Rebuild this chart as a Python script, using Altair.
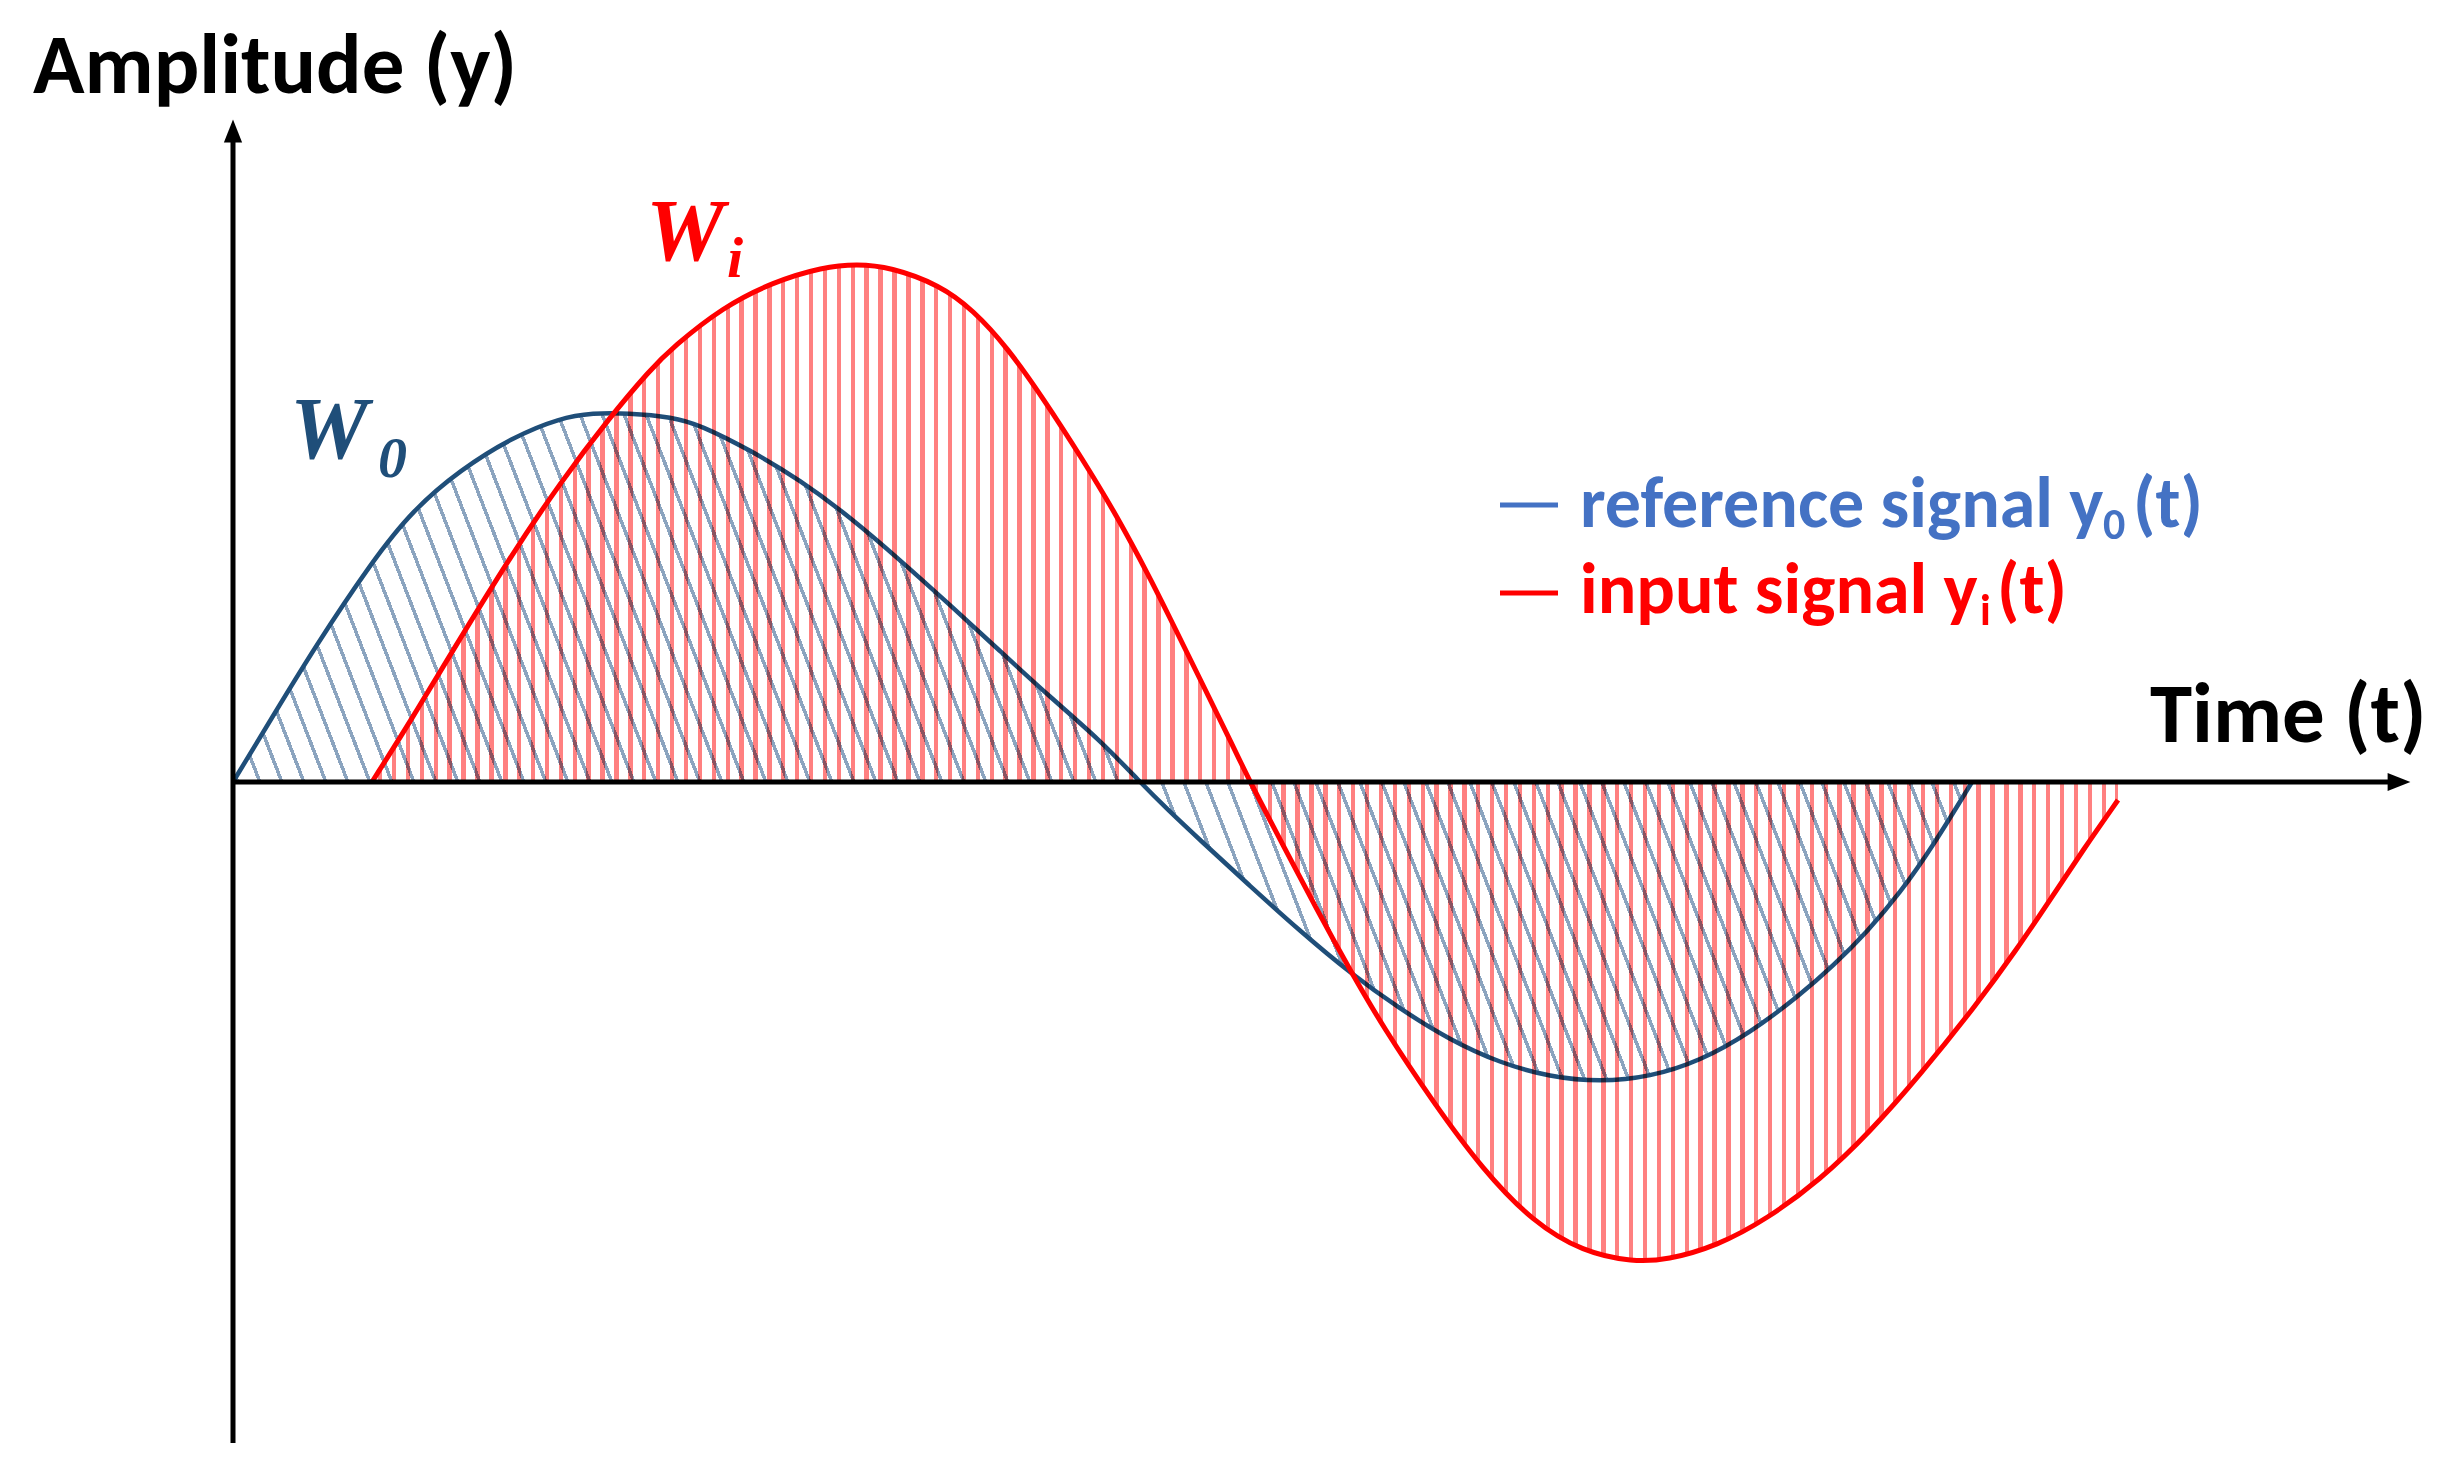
import altair as alt
import pandas as pd

# ---------------- data ----------------
# reference signal y0(t)  (time units, amplitude units)
blue_t = [0.00, 0.40, 0.80, 1.40, 1.80, 2.27, 2.80, 3.27, 3.60, 3.94, 4.40, 4.67, 5.17, 5.67,
          6.17, 6.67, 7.17, 7.67, 8.17, 8.67, 9.07, 9.34, 9.67, 10.17, 10.67, 11.17, 11.67,
          12.17, 12.67, 13.17, 13.67, 14.17, 14.67, 15.17, 15.67, 16.00, 16.34, 16.67, 17.00, 17.39]
blue_a = [0.00, 0.66, 1.32, 2.22, 2.72, 3.12, 3.45, 3.64, 3.69, 3.69, 3.65, 3.57, 3.32, 3.02,
          2.65, 2.22, 1.77, 1.31, 0.85, 0.42, 0.00, -0.27, -0.58, -1.04, -1.49, -1.91, -2.27,
          -2.58, -2.81, -2.95, -3.00, -2.95, -2.79, -2.51, -2.13, -1.84, -1.50, -1.11, -0.64, 0.00]

# input signal yi(t)
red_t = [1.39, 1.80, 2.14, 2.77, 3.27, 3.77, 4.17, 4.40, 4.90, 5.40, 5.90, 6.24, 6.57, 7.07,
         7.40, 7.74, 8.10, 8.50, 8.84, 9.17, 9.34, 9.67, 10.00, 10.17, 10.50, 10.84, 11.17,
         11.50, 12.00, 12.50, 13.00, 13.50, 14.00, 14.34, 14.84, 15.34, 15.87, 16.37, 16.87,
         17.44, 17.84, 18.17, 18.50, 18.85]
red_a = [0.00, 0.65, 1.22, 2.25, 2.99, 3.65, 4.12, 4.35, 4.75, 5.00, 5.15, 5.18, 5.15, 4.97,
         4.72, 4.35, 3.84, 3.22, 2.66, 2.04, 1.70, 1.03, 0.36, 0.00, -0.63, -1.28, -1.88,
         -2.45, -3.20, -3.88, -4.40, -4.70, -4.80, -4.78, -4.64, -4.37, -3.98, -3.50, -2.93,
         -2.22, -1.67, -1.18, -0.68, -0.18]

# axes (arrows)
axis_y_from, axis_y_to = -6.61, 6.51
axis_x_to = 21.66

title_labels = ["Amplitude (y)", "Time (t)"]
title_t = [-2.00, 19.17]
title_a = [6.89, 0.40]

legend_labels = ["reference signal y", "input signal y"]
legend_subs = ["0", "i"]
legend_tails = ["(t)", "(t)"]
legend_colors = ["#4472c4", "#ff0000"]
legend_text_t = [13.47, 13.47]
legend_text_a = [2.55, 1.69]
legend_sub_t = [18.70, 17.47]
legend_tail_t = [19.00, 17.64]
legend_dash_t = [12.67, 13.25]
legend_dash_a = [2.77, 1.89]

w_labels = ["W", "W"]
w_subs = ["0", "i"]
w_colors = ["#1f4e79", "#ff0000"]
w_t = [0.57, 4.13]
w_a = [3.24, 5.22]
w_sub_t = [1.45, 4.94]
w_sub_a = [3.05, 5.05]

# ---------------- layout / styling ----------------
PX = 100.0
W_PLOT, H_PLOT = 2440, 1460
T_MIN, A_MAX = -2.25, 7.74
xs = alt.Scale(domain=[T_MIN, T_MIN + W_PLOT / PX], nice=False, zero=False)
ys = alt.Scale(domain=[A_MAX - H_PLOT / PX, A_MAX], nice=False, zero=False)
X = lambda f: alt.X(f, type="quantitative", scale=xs, axis=None)
Y = lambda f: alt.Y(f, type="quantitative", scale=ys, axis=None)

CLEAR = "rgba(255,255,255,0)"


def stripe_stops(period_frac, width_frac, phase_frac, color):
    stops = [alt.GradientStop(color=CLEAR, offset=0)]
    k = 0
    while True:
        s = phase_frac + k * period_frac
        if s >= 1:
            break
        e = min(s + width_frac, 1.0)
        stops += [alt.GradientStop(color=CLEAR, offset=s), alt.GradientStop(color=color, offset=s),
                  alt.GradientStop(color=color, offset=e), alt.GradientStop(color=CLEAR, offset=e)]
        k += 1
    stops.append(alt.GradientStop(color=CLEAR, offset=1))
    return stops


blue_df = pd.DataFrame({"t": blue_t, "a": blue_a, "z": 0.0})
red_df = pd.DataFrame({"t": red_t, "a": red_a, "z": 0.0})

# red: vertical hatch
red_w = (max(red_t) - min(red_t)) * PX
red_grad = alt.Gradient(gradient="linear", x1=0, y1=0, x2=1, y2=0,
                        stops=stripe_stops(13.9 / red_w, 4.4 / red_w, 6 / red_w, "#ff8080"))

# blue: diagonal hatch "\\"
bw = (max(blue_t) - min(blue_t)) * PX
bh = (max(blue_a) - min(blue_a)) * PX
slope = 2.6
gy = -bh / (slope * bw)
tt = (1 - gy) / (1 + gy * gy)
span = bw * (1 - gy)
blue_grad = alt.Gradient(gradient="linear", x1=0, y1=1, x2=tt, y2=1 + tt * gy,
                         stops=stripe_stops(22.0 / span, 3.8 / span, 8 / span, "#8ba4bf"))

CURVE = "basis"
blue_area = alt.Chart(blue_df).mark_area(interpolate=CURVE, color=blue_grad).encode(
    x=X("t"), y=Y("a"), y2="z")
blue_line = alt.Chart(blue_df).mark_line(interpolate=CURVE, color="#1f4e79", strokeWidth=4.5).encode(
    x=X("t"), y=Y("a"))
red_area = alt.Chart(red_df).mark_area(interpolate=CURVE, color=red_grad, blend="multiply").encode(
    x=X("t"), y=Y("a"), y2="z")
red_line = alt.Chart(red_df).mark_line(interpolate=CURVE, color="#ff0000", strokeWidth=5).encode(
    x=X("t"), y=Y("a"))

axes_df = pd.DataFrame({"t": [0.0, 0.0], "a": [axis_y_from, 0.0], "t2": [0.0, axis_x_to], "a2": [axis_y_to, 0.0]})
axes = alt.Chart(axes_df).mark_rule(color="black", strokeWidth=5).encode(
    x=X("t"), y=Y("a"), x2="t2", y2="a2")
arrow_df = pd.DataFrame({"t": [0.0, axis_x_to], "a": [axis_y_to, 0.0], "ang": [0, 90]})
arrows = alt.Chart(arrow_df).mark_point(shape="M0,-1L0.8,1L-0.8,1Z", filled=True, color="black",
                                        size=520, opacity=1).encode(
    x=X("t"), y=Y("a"), angle=alt.Angle("ang:Q", scale=None))

FONT = "Carlito, Calibri, Lato"
titles = alt.Chart(pd.DataFrame({"t": title_t, "a": title_a, "lab": title_labels})).mark_text(
    font=FONT, fontWeight="bold", fontSize=85, align="left", baseline="alphabetic", color="black").encode(
    x=X("t"), y=Y("a"), text="lab:N")

leg_df = pd.DataFrame({"t": legend_text_t, "a": legend_text_a, "lab": legend_labels, "c": legend_colors,
                       "st": legend_sub_t, "sa": [v - 0.12 for v in legend_text_a], "sub": legend_subs,
                       "tt": legend_tail_t, "tail": legend_tails,
                       "d1": [legend_dash_t[0]] * 2, "d2": [legend_dash_t[1]] * 2, "da": legend_dash_a})
leg_text = alt.Chart(leg_df).mark_text(font=FONT, fontWeight="bold", fontSize=72, align="left",
                                       baseline="alphabetic").encode(
    x=X("t"), y=Y("a"), text="lab:N", color=alt.Color("c:N", scale=None))
leg_sub = alt.Chart(leg_df).mark_text(font=FONT, fontWeight="bold", fontSize=44, align="left",
                                      baseline="alphabetic").encode(
    x=X("st"), y=Y("sa"), text="sub:N", color=alt.Color("c:N", scale=None))
leg_tail = alt.Chart(leg_df).mark_text(font=FONT, fontWeight="bold", fontSize=72, align="left",
                                       baseline="alphabetic").encode(
    x=X("tt"), y=Y("a"), text="tail:N", color=alt.Color("c:N", scale=None))
leg_dash = alt.Chart(leg_df).mark_rule(strokeWidth=5).encode(
    x=X("d1"), x2="d2", y=Y("da"), color=alt.Color("c:N", scale=None))

w_df = pd.DataFrame({"t": w_t, "a": w_a, "lab": w_labels, "c": w_colors,
                     "st": w_sub_t, "sa": w_sub_a, "sub": w_subs})
w_text = alt.Chart(w_df).mark_text(font="Liberation Serif", fontWeight="bold", fontStyle="italic",
                                   fontSize=88, align="left", baseline="alphabetic").encode(
    x=X("t"), y=Y("a"), text="lab:N", color=alt.Color("c:N", scale=None))
w_sub = alt.Chart(w_df).mark_text(font="Liberation Serif", fontWeight="bold", fontStyle="italic",
                                  fontSize=58, align="left", baseline="alphabetic").encode(
    x=X("st"), y=Y("sa"), text="sub:N", color=alt.Color("c:N", scale=None))

chart = alt.layer(
    blue_area, blue_line, red_area, red_line, axes, arrows,
    titles, leg_dash, leg_text, leg_sub, leg_tail, w_text, w_sub
).properties(
    width=W_PLOT, height=H_PLOT, autosize=alt.AutoSizeParams(type="none"), padding=0,
    background="white"
).configure_view(stroke=None)

chart.save("out.html", embed_options={"renderer": "svg", "actions": False})
